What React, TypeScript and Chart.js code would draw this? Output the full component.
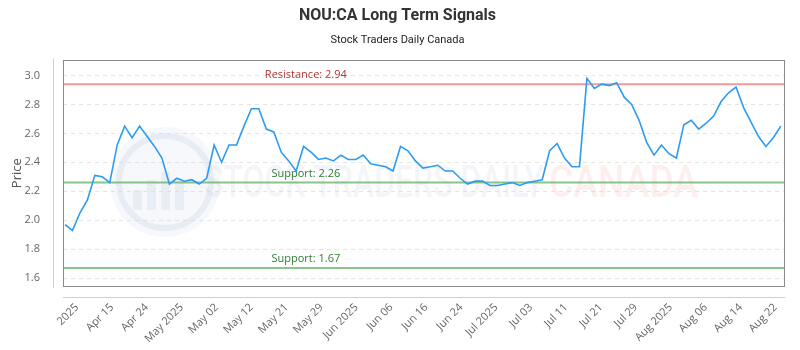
import { useEffect, useRef } from 'react';
import { Chart, registerables } from 'chart.js';

Chart.register(...registerables);

const prices = [
  1.97, 1.93, 2.05, 2.14, 2.31, 2.30, 2.26, 2.52, 2.65, 2.57,
  2.65, 2.58, 2.51, 2.43, 2.25, 2.29, 2.27, 2.28, 2.25, 2.29,
  2.52, 2.40, 2.52, 2.52, 2.65, 2.77, 2.77, 2.63, 2.61, 2.47,
  2.41, 2.34, 2.51, 2.47, 2.42, 2.43, 2.41, 2.45, 2.42, 2.42,
  2.45, 2.39, 2.38, 2.37, 2.34, 2.51, 2.48, 2.41, 2.36, 2.37,
  2.38, 2.34, 2.34, 2.29, 2.25, 2.27, 2.27, 2.24, 2.24, 2.25,
  2.26, 2.24, 2.26, 2.27, 2.28, 2.48, 2.53, 2.43, 2.37, 2.37,
  2.98, 2.91, 2.94, 2.93, 2.95, 2.85, 2.80, 2.69, 2.54, 2.45,
  2.52, 2.46, 2.43, 2.66, 2.69, 2.63, 2.67, 2.72, 2.82, 2.88,
  2.92, 2.78, 2.68, 2.58, 2.51, 2.57, 2.65,
];

const xTickLabels = [
  '2025', 'Apr 15', 'Apr 24', 'May 2025', 'May 02', 'May 12', 'May 21',
  'May 29', 'Jun 2025', 'Jun 06', 'Jun 16', 'Jun 24', 'Jul 2025', 'Jul 03',
  'Jul 11', 'Jul 21', 'Jul 29', 'Aug 2025', 'Aug 06', 'Aug 14', 'Aug 22',
];

const yTickValues = [1.6, 1.8, 2.0, 2.2, 2.4, 2.6, 2.8, 3.0];

const resistanceLevels = [2.94];
const supportLevels = [2.26, 1.67];

const firstTickIndex = 1.6;
const tickStepIndex = 4.685;
const levelLabelIndex = 32.3;

const overlayPlugin = {
  id: 'overlay',
  beforeDatasetsDraw(chart: any) {
    const { ctx, chartArea: a, scales } = chart;
    const xs = scales.x;
    const ys = scales.y;
    ctx.save();
    ctx.beginPath();
    ctx.rect(a.left, a.top, a.right - a.left, a.bottom - a.top);
    ctx.clip();
    // watermark
    const cx = 165, cy = 182;
    ctx.fillStyle = 'rgba(205,214,232,0.18)';
    ctx.beginPath();
    ctx.arc(cx, cy, 55, 0, Math.PI * 2);
    ctx.fill();
    ctx.strokeStyle = 'rgba(205,214,232,0.35)';
    ctx.lineWidth = 6;
    ctx.beginPath();
    ctx.arc(cx, cy, 46, 0, Math.PI * 2);
    ctx.stroke();
    ctx.fillStyle = 'rgba(205,214,232,0.3)';
    const bars = [[-28, 20], [-14, 30], [0, 38], [14, 30]];
    bars.forEach(([dx, h]) => ctx.fillRect(cx + dx - 4, cy + 28 - h, 9, h));
    ctx.font = '500 44px Roboto, sans-serif';
    ctx.textBaseline = 'alphabetic';
    ctx.textAlign = 'left';
    const t1 = 'STOCK TRADERS DAILY';
    const w1 = ctx.measureText(t1).width;
    ctx.save();
    ctx.translate(204, 197);
    ctx.scale(340 / w1, 1);
    ctx.fillStyle = 'rgba(200,210,228,0.22)';
    ctx.fillText(t1, 0, 0);
    ctx.restore();
    const t2 = 'CANADA';
    const w2 = ctx.measureText(t2).width;
    ctx.save();
    ctx.translate(549, 197);
    ctx.scale(149 / w2, 1);
    ctx.fillStyle = 'rgba(250,190,190,0.25)';
    ctx.fillText(t2, 0, 0);
    ctx.restore();

    // levels
    const lx = xs.getPixelForValue(levelLabelIndex);
    const drawLevel = (v: number, line: string, text: string, label: string) => {
      const y = ys.getPixelForValue(v);
      ctx.strokeStyle = line;
      ctx.lineWidth = 2;
      ctx.beginPath();
      ctx.moveTo(a.left, y);
      ctx.lineTo(a.right, y);
      ctx.stroke();
      ctx.font = '11px "Open Sans", sans-serif';
      ctx.fillStyle = text;
      ctx.textAlign = 'center';
      ctx.textBaseline = 'middle';
      ctx.fillText(label, lx, y - 9);
    };
    resistanceLevels.forEach((v) =>
      drawLevel(v, 'rgba(238,120,120,0.75)', '#b03636', 'Resistance: ' + v.toFixed(2))
    );
    supportLevels.forEach((v) =>
      drawLevel(v, 'rgba(110,180,110,0.8)', '#2e7d32', 'Support: ' + v.toFixed(2))
    );
    ctx.restore();
  },
  afterDraw(chart: any) {
    const { ctx, chartArea: a } = chart;
    ctx.save();
    ctx.strokeStyle = '#8a8a8a';
    ctx.lineWidth = 1;
    ctx.strokeRect(Math.round(a.left) + 0.5, Math.round(a.top) + 0.5, Math.round(a.right - a.left), Math.round(a.bottom - a.top));
    ctx.strokeStyle = '#cfcfcf';
    ctx.beginPath();
    const lx = Math.round(a.left) - 10 + 0.5;
    ctx.moveTo(lx, a.top - 2);
    ctx.lineTo(lx, a.bottom + 2);
    const by = Math.round(a.bottom) + 11 + 0.5;
    ctx.moveTo(a.left, by);
    ctx.lineTo(a.right + 1, by);
    ctx.stroke();
    ctx.restore();
  },
};

export default function App() {
  const ref = useRef<HTMLCanvasElement | null>(null);
  useEffect(() => {
    if (!ref.current) return;
    Chart.defaults.font.family = '"Open Sans", sans-serif';
    const chart = new Chart(ref.current, {
      type: 'line',
      data: {
        datasets: [
          {
            label: 'Price',
            data: prices.map((v, i) => ({ x: i, y: v })),
            borderColor: '#2c9cf2',
            borderWidth: 1.6,
            pointRadius: 0,
            tension: 0,
            fill: false,
          },
        ],
      },
      options: {
        animation: false,
        responsive: true,
        maintainAspectRatio: false,
        layout: { padding: { left: 5, right: 10, top: 0, bottom: 0 } },
        plugins: {
          legend: { display: false },
          tooltip: { enabled: false },
          title: {
            display: true,
            text: 'NOU:CA Long Term Signals',
            color: '#333',
            font: { size: 16, weight: 'bold', family: 'Roboto, sans-serif' },
            padding: { top: 6, bottom: 8 },
          },
          subtitle: {
            display: true,
            text: 'Stock Traders Daily Canada',
            color: '#222',
            font: { size: 11, family: 'Roboto, sans-serif' },
            padding: { top: 0, bottom: 14 },
          },
        },
        scales: {
          x: {
            type: 'linear',
            min: -0.27,
            max: 96.45,
            grid: { display: false, drawTicks: false },
            border: { display: false },
            afterFit(scale: any) {
              scale.height = 64;
            },
            afterBuildTicks(scale: any) {
              scale.ticks = xTickLabels.map((_, i) => ({ value: firstTickIndex + i * tickStepIndex }));
            },
            ticks: {
              autoSkip: false,
              maxRotation: 45,
              minRotation: 45,
              padding: 15,
              color: '#666',
              font: { size: 11 },
              callback: (_v: any, i: number) => xTickLabels[i],
            },
          },
          y: {
            type: 'linear',
            min: 1.546,
            max: 3.104,
            grid: { color: '#e4e4e4', drawTicks: false },
            border: { display: false, dash: [4, 4] },
            afterFit(scale: any) {
              scale.width = 58;
            },
            afterBuildTicks(scale: any) {
              scale.ticks = yTickValues.map((v) => ({ value: v }));
            },
            title: {
              display: true,
              text: 'Price',
              color: '#555',
              font: { size: 13 },
              padding: { top: 4, bottom: 4 },
            },
            ticks: {
              padding: 23,
              color: '#666',
              font: { size: 11 },
              callback: (v: any) => Number(v).toFixed(1),
            },
          },
        },
      },
      plugins: [overlayPlugin],
    });
    return () => chart.destroy();
  }, []);
  return (
    <div style={{ position: 'fixed', left: 0, top: 0, width: 800, height: 350, background: '#fff' }}>
      <canvas ref={ref} />
    </div>
  );
}
